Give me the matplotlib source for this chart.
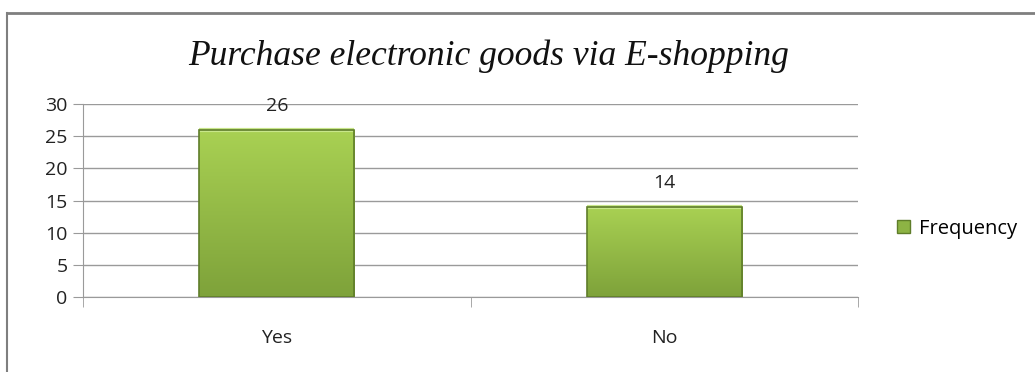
import numpy as np
import matplotlib.pyplot as plt
from matplotlib.lines import Line2D
from matplotlib.patches import Patch
from matplotlib.colors import LinearSegmentedColormap

# chart data
categories = ['Yes', 'No']
frequency = [26, 14]
yticks = [0, 5, 10, 15, 20, 25, 30]
title = 'Purchase electronic goods via E-shopping'
series_name = 'Frequency'

TICK_FONT = 'Open Sans'
grid_color = '#9a9a9a'
bar_top = '#a9d153'
bar_bottom = '#7ea23a'
bar_edge = '#5f7d2a'

fig = plt.figure(figsize=(10.35, 3.72), dpi=100)
ax = fig.add_axes([0.0802, 0.2016, 0.7488, 0.5188])

x = np.arange(len(categories))
bars = ax.bar(x, frequency, width=0.4, color=bar_bottom, linewidth=0, zorder=3)

# vertical gradient inside each bar, clipped to the bar itself
grad = np.linspace(0, 1, 256).reshape(-1, 1)
cmap = LinearSegmentedColormap.from_list('g', [bar_bottom, bar_top])
for b in bars:
    im = ax.imshow(grad, cmap=cmap, aspect='auto', origin='lower',
                   extent=(b.get_x(), b.get_x() + b.get_width(), 0, b.get_height()),
                   zorder=3.5)
    im.set_clip_path(b)
    # bevel highlight along top edge
    ax.plot([b.get_x(), b.get_x() + b.get_width()], [b.get_height()] * 2,
            color='#c8e68a', lw=3, zorder=4, solid_capstyle='butt')
    ax.annotate(str(int(b.get_height())), (b.get_x() + b.get_width() / 2, b.get_height()),
                xytext=(0, 17), textcoords='offset points', ha='center', va='center',
                fontsize=14, family=TICK_FONT, color='#222222', zorder=5)

# outline on top of the gradient
ax.bar(x, frequency, width=0.4, fill=False, edgecolor=bar_edge, linewidth=1.2, zorder=4.5)

ax.set_xlim(-0.5, len(categories) - 0.5)
ax.set_ylim(0, 30)
ax.set_yticks(yticks)
ax.set_xticks(x)
ax.set_xticklabels(categories)
ax.set_xticks(np.arange(-0.5, len(categories)), minor=True)
ax.tick_params(axis='x', which='major', length=0, pad=23, labelsize=14)
ax.tick_params(axis='x', which='minor', length=7, color=grid_color, direction='out')
ax.tick_params(axis='y', length=7, color=grid_color, labelsize=14, pad=4)
for lab in ax.get_xticklabels() + ax.get_yticklabels():
    lab.set_family(TICK_FONT)
    lab.set_color('#222222')

ax.yaxis.grid(True, color=grid_color, lw=1.0, zorder=0)
ax.set_axisbelow(True)
for s in ['top', 'right']:
    ax.spines[s].set_visible(False)
for s in ['left', 'bottom']:
    ax.spines[s].set_color(grid_color)

fig.suptitle(title, x=0.472, y=0.895, fontsize=25.6, style='italic',
             family='Liberation Serif', color='#111111')

handle = Patch(facecolor='#8db344', edgecolor=bar_edge)
fig.legend([handle], [series_name], loc='center left', bbox_to_anchor=(0.849, 0.385),
           frameon=False, handlelength=0.65, handleheight=0.65, handletextpad=0.45,
           prop={'family': TICK_FONT, 'size': 14.5})

# outer chart border (cut at the right and bottom in the reference)
fig.add_artist(Line2D([0.007, 0.007], [0.0, 0.965], color='#7f7f7f', lw=1.5,
                      transform=fig.transFigure))
fig.add_artist(Line2D([0.007, 1.0], [0.965, 0.965], color='#7f7f7f', lw=2,
                      transform=fig.transFigure))

fig.savefig('out.png', dpi=100)
